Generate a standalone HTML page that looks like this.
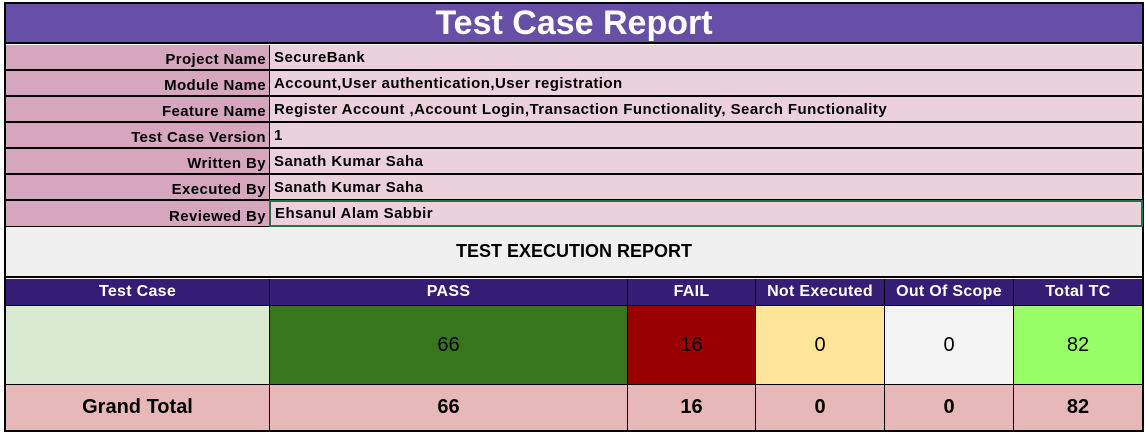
<!DOCTYPE html>
<html><head><meta charset="utf-8"><style>
body{margin:0;width:1145px;height:432px;background:#fff;position:relative;overflow:hidden;font-family:"Liberation Sans",sans-serif}
.c{position:absolute;box-sizing:border-box;display:flex;align-items:center;font-weight:bold;color:#000;white-space:nowrap}
.lbl{background:#d5a6bd;justify-content:flex-end;padding-right:3px;font-size:15px;letter-spacing:0.4px;border-bottom:2px solid #000;padding-top:5px}
.val{background:#ead1dc;padding-left:4px;font-size:15px;letter-spacing:0.45px;border-bottom:2px solid #000;border-left:1px solid #000}
.hd{background:#351c75;color:#fff;justify-content:center;font-size:16px;letter-spacing:0.3px;border-left:1px solid #000}
.dv{justify-content:center;font-size:20px;font-weight:normal;border-left:1px solid #000}
.gt{background:#e6b8b7;justify-content:center;font-size:20px;border-left:1px solid #000}
</style></head><body>
<div style="position:absolute;left:4px;top:2px;width:1140px;height:430px;border:2px solid #000;box-sizing:border-box"></div>
<div class="c" style="left:6px;top:4px;width:1136px;height:40px;background:#674ea7;color:#fff;justify-content:center;font-size:34px;border-bottom:2px solid #000">Test Case Report</div>

<div class="c lbl" style="left:6px;top:45px;width:263px;height:26px">Project Name</div>
<div class="c val" style="left:269px;top:45px;width:873px;height:26px">SecureBank</div>
<div class="c lbl" style="left:6px;top:71px;width:263px;height:26px">Module Name</div>
<div class="c val" style="left:269px;top:71px;width:873px;height:26px">Account,User authentication,User registration</div>
<div class="c lbl" style="left:6px;top:97px;width:263px;height:26px">Feature Name</div>
<div class="c val" style="left:269px;top:97px;width:873px;height:26px">Register Account ,Account Login,Transaction Functionality, Search Functionality</div>
<div class="c lbl" style="left:6px;top:123px;width:263px;height:26px">Test Case Version</div>
<div class="c val" style="left:269px;top:123px;width:873px;height:26px">1</div>
<div class="c lbl" style="left:6px;top:149px;width:263px;height:26px">Written By</div>
<div class="c val" style="left:269px;top:149px;width:873px;height:26px">Sanath Kumar Saha</div>
<div class="c lbl" style="left:6px;top:175px;width:263px;height:26px">Executed By</div>
<div class="c val" style="left:269px;top:175px;width:873px;height:26px">Sanath Kumar Saha</div>
<div class="c lbl" style="left:6px;top:201px;width:263px;height:26px;border-bottom:1px solid #000">Reviewed By</div>
<div class="c val" style="left:269px;top:200px;width:874px;height:27px;border:2px solid #217346">Ehsanul Alam Sabbir</div>

<div class="c" style="left:6px;top:227px;width:1136px;height:51px;background:#f0f0f0;justify-content:center;font-size:18px;border-bottom:2px solid #000">TEST EXECUTION REPORT</div>

<div class="c hd" style="left:6px;top:279px;width:263px;height:26px;border-left:none">Test Case</div>
<div class="c hd" style="left:269px;top:279px;width:358px;height:26px">PASS</div>
<div class="c hd" style="left:627px;top:279px;width:128px;height:26px">FAIL</div>
<div class="c hd" style="left:755px;top:279px;width:129px;height:26px">Not Executed</div>
<div class="c hd" style="left:884px;top:279px;width:129px;height:26px">Out Of Scope</div>
<div class="c hd" style="left:1013px;top:279px;width:129px;height:26px">Total TC</div>

<div style="position:absolute;left:6px;top:305px;width:1136px;height:1px;background:#000"></div>
<div class="c dv" style="left:6px;top:306px;width:263px;height:78px;background:#d9ead3;border-left:none"></div>
<div class="c dv" style="left:269px;top:306px;width:358px;height:78px;background:#38761d">66</div>
<div class="c dv" style="left:627px;top:306px;width:128px;height:78px;background:#990000">16</div>
<div class="c dv" style="left:755px;top:306px;width:129px;height:78px;background:#ffe599">0</div>
<div class="c dv" style="left:884px;top:306px;width:129px;height:78px;background:#f3f3f3">0</div>
<div class="c dv" style="left:1013px;top:306px;width:129px;height:78px;background:#99ff66">82</div>

<div style="position:absolute;left:6px;top:384px;width:1136px;height:1px;background:#000"></div>
<div class="c gt" style="left:6px;top:385px;width:263px;height:45px;border-left:none">Grand Total</div>
<div class="c gt" style="left:269px;top:385px;width:358px;height:45px">66</div>
<div class="c gt" style="left:627px;top:385px;width:128px;height:45px">16</div>
<div class="c gt" style="left:755px;top:385px;width:129px;height:45px">0</div>
<div class="c gt" style="left:884px;top:385px;width:129px;height:45px">0</div>
<div class="c gt" style="left:1013px;top:385px;width:129px;height:45px">82</div>
</body></html>
